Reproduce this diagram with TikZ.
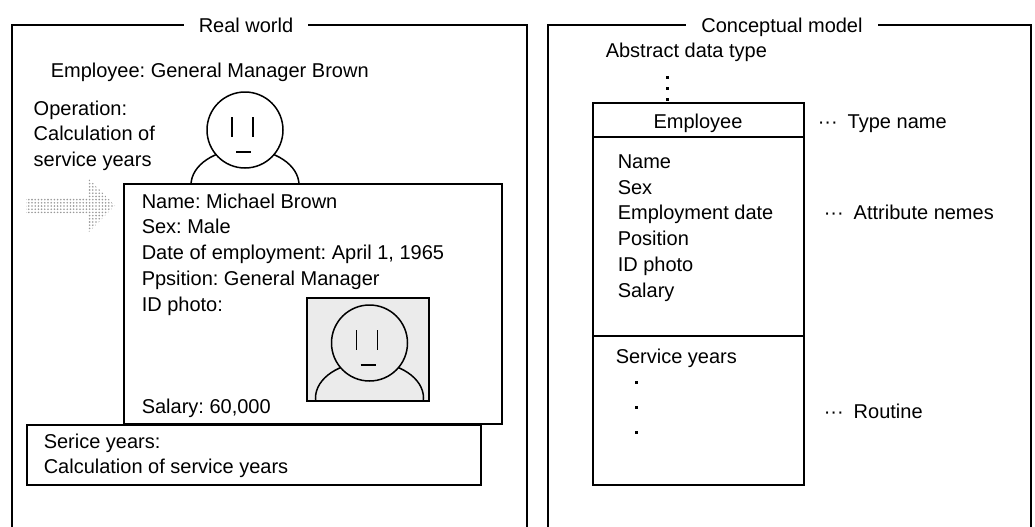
\documentclass[tikz,border=0pt]{standalone}
\usepackage{fontspec}
\setmainfont{Liberation Sans}
\usetikzlibrary{patterns.meta}
\frenchspacing

\definecolor{photobg}{gray}{0.92}

\tikzset{
  face/.pic={
    % shoulders first, the head covers their top
    \draw (0,55) ellipse [x radius=54, y radius=36];
    \filldraw (0,0) circle [radius=38];
    \draw (-13,-13) -- (-13,7) (8,-13) -- (8,7);
    \draw (-9,22) -- (6,22);
  },
  paneltitle/.style={fill=white, inner xsep=7.5pt, inner ysep=0pt, anchor=base},
  lbl/.style={inner sep=0pt, anchor=base west},
  blk/.style={inner sep=0pt, anchor=north west, align=left},
}

\begin{document}
\begin{tikzpicture}[x=0.5pt, y=-0.5pt, line width=0.75pt,
    every node/.style={font=\fontsize{10}{12.85}\selectfont}]
    \useasboundingbox (0,0) rectangle (1035,526);

    % the two panels, open at the bottom
    \draw (12,540) rectangle (527,25);
    \draw (548,540) rectangle (1031,25);
    \node[paneltitle] (rw) at (246,32) {Real world};
    \node[paneltitle] (cm) at (782,32) {Conceptual model};

    % left panel: the employee himself
    \node[lbl] (who) at (50,77) {Employee: General Manager Brown};
    \node[blk] (op) at (33,100) {Operation:\\Calculation of\\service years};
    \pic[fill=white] at (245,130) {face};

    \fill[pattern={Dots[radius=0.45pt, distance=1.6pt]}, pattern color=gray!80]
      (26,198) -- (88,198) -- (88,178) -- (115,205.5) -- (88,233) -- (88,213) -- (26,213) -- cycle;

    % record card
    \filldraw[fill=white] (124,184) rectangle (502,424);
    \node[blk] (card) at (141,193) {Name: Michael Brown\\Sex: Male\\Date of employment: April 1, 1965\\Ppsition: General Manager\\ID photo:};
    \node[lbl] (salary) at (141,413) {Salary: 60,000};

    \fill[photobg] (307,298) rectangle (429,401);
    \begin{scope}
      \clip (307,298) rectangle (429,401);
      \pic[fill=photobg] at (369.5,343) {face};
    \end{scope}
    \draw (307,298) rectangle (429,401);

    \filldraw[fill=white] (27,425) rectangle (481,485);
    \node[blk] (svc) at (43,433) {Serice years:\\Calculation of service years};

    % right panel: the abstract data type
    \node[lbl] (adt) at (605,57) {Abstract data type};
    \coordinate (adtfoot) at (667,76);
    \coordinate (clstop) at (667,103);
    \draw[line width=1.5pt, dash pattern=on 1.5pt off 4pt] (adtfoot) -- (clstop);

    \draw (593,103) rectangle (804,485);
    \draw (593,137) -- (804,137);
    \draw (593,336) -- (804,336);
    \node[inner sep=0pt, anchor=base] (tname) at (698,128) {Employee};
    \node[blk] (attrs) at (617,154) {Name\\Sex\\Employment date\\Position\\ID photo\\Salary};
    \node[blk] (rout) at (615,348) {Service years};
    \foreach \y in {382,407,432}
      \fill (636,\y) +(-1.5,-1.5) rectangle +(1.5,1.5);

    \node[lbl] (n1) at (817,128) {\textperiodcentered\textperiodcentered\textperiodcentered\enspace Type name};
    \node[lbl] (n2) at (823,219) {\textperiodcentered\textperiodcentered\textperiodcentered\enspace Attribute nemes};
    \node[lbl] (n3) at (823,418) {\textperiodcentered\textperiodcentered\textperiodcentered\enspace Routine};
\end{tikzpicture}
\end{document}
